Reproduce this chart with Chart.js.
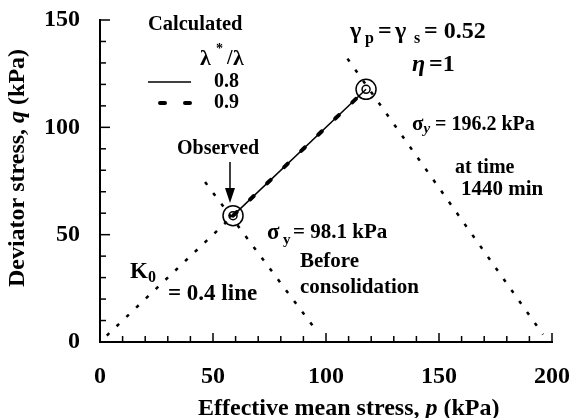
<!DOCTYPE html>
<html>
<head>
<meta charset="utf-8">
<script src="https://cdn.jsdelivr.net/npm/chart.js@4.4.0/dist/chart.umd.min.js"></script>
<style>
  html, body { margin: 0; padding: 0; background: #fff; }
  canvas { display: block; }
</style>
</head>
<body>
<canvas id="chart" width="571" height="418"></canvas>
<script>
const xTickLabels = [0, 50, 100, 150, 200];
const yTickLabels = [0, 50, 100, 150];

// effective mean stress p / deviator stress q (kPa)
const k0P = [3, 58.86];
const k0Q = [3, 58.86];
const yieldBeforeP = [46.5, 94.5];
const yieldBeforeQ = [74.5, 7];
const yieldAfterP = [109.5, 196];
const yieldAfterQ = [132, 3.5];
const calc08P = [58.86, 117.72];
const calc08Q = [58.86, 117.72];
const calc09P = [58.86, 117.72];
const calc09Q = [58.86, 117.72];
const observedP = [58.86, 117.72];
const observedQ = [58.86, 117.72];

const FONT = '"Liberation Serif", "Times New Roman", serif';
const pts = (xs, ys) => xs.map((v, i) => ({ x: v, y: ys[i] }));

function drawRuns(ctx, x, y, runs) {
  let cx = x;
  runs.forEach((r) => {
    const size = r.size || 20;
    ctx.font = `${r.italic ? 'italic ' : ''}bold ${size}px ${FONT}`;
    if (r.at !== undefined) cx = r.at;
    ctx.fillText(r.t, cx, y + (r.dy || 0));
    cx += ctx.measureText(r.t).width;
  });
}

const overlay = {
  id: 'overlay',
  afterDraw(chart) {
    const { ctx, scales: { x, y } } = chart;
    const area = chart.chartArea;
    ctx.save();
    ctx.strokeStyle = '#000';
    ctx.fillStyle = '#000';
    ctx.lineWidth = 1.5;

    // inward tick marks
    x.ticks.forEach((t) => {
      const px = x.getPixelForValue(t.value);
      const len = xTickLabels.includes(t.value) ? 9 : 6;
      ctx.beginPath();
      ctx.moveTo(px, area.bottom);
      ctx.lineTo(px, area.bottom - len);
      ctx.stroke();
    });
    y.ticks.forEach((t) => {
      const py = y.getPixelForValue(t.value);
      const len = yTickLabels.includes(t.value) ? 10 : 6;
      ctx.beginPath();
      ctx.moveTo(area.left, py);
      ctx.lineTo(area.left + len, py);
      ctx.stroke();
    });

    // axis titles
    ctx.textBaseline = 'middle';
    ctx.textAlign = 'left';
    drawRuns(ctx, 198, 409, [
      { t: 'Effective mean stress, ', size: 24 },
      { t: 'p', size: 24, italic: true },
      { t: ' (kPa)', size: 24 },
    ]);
    ctx.save();
    ctx.translate(18, 168);
    ctx.rotate(-Math.PI / 2);
    ctx.font = `bold 24px ${FONT}`;
    const w1 = ctx.measureText('Deviator stress, ').width;
    ctx.font = `italic bold 24px ${FONT}`;
    const w2 = ctx.measureText('q').width;
    ctx.font = `bold 24px ${FONT}`;
    const w3 = ctx.measureText(' (kPa)').width;
    drawRuns(ctx, -(w1 + w2 + w3) / 2, 0, [
      { t: 'Deviator stress, ', size: 24 },
      { t: 'q', size: 24, italic: true },
      { t: ' (kPa)', size: 24 },
    ]);
    ctx.restore();

    // legend
    drawRuns(ctx, 148, 25, [{ t: 'Calculated', size: 20.5 }]);
    drawRuns(ctx, 200, 59, [
      { t: 'λ', size: 22 },
      { t: '*', size: 14, dy: -10, at: 216 },
      { t: '/', size: 20, at: 227 },
      { t: 'λ', size: 22, at: 233 },
    ]);
    ctx.lineWidth = 1.5;
    ctx.beginPath();
    ctx.moveTo(148, 82);
    ctx.lineTo(191, 82);
    ctx.stroke();
    ctx.lineWidth = 4;
    ctx.lineCap = 'round';
    ctx.beginPath();
    ctx.moveTo(160, 103);
    ctx.lineTo(165, 103);
    ctx.moveTo(185, 103);
    ctx.lineTo(190, 103);
    ctx.stroke();
    ctx.lineCap = 'butt';
    drawRuns(ctx, 214, 82, [{ t: '0.8' }]);
    drawRuns(ctx, 214, 103, [{ t: '0.9' }]);

    // observed label + arrow
    drawRuns(ctx, 177, 149, [{ t: 'Observed' }]);
    ctx.lineWidth = 1.5;
    ctx.beginPath();
    ctx.moveTo(230, 162);
    ctx.lineTo(230, 192);
    ctx.stroke();
    ctx.beginPath();
    ctx.moveTo(225, 188);
    ctx.lineTo(235, 188);
    ctx.lineTo(230, 203);
    ctx.closePath();
    ctx.fill();

    // parameters
    drawRuns(ctx, 350, 32, [
      { t: 'γ', size: 24 },
      { t: 'p', size: 16, dy: 7, at: 365 },
      { t: '=', size: 24, at: 378 },
      { t: 'γ', size: 24, at: 395 },
      { t: 's', size: 16, dy: 7, at: 414 },
      { t: '= 0.52', size: 24, at: 424 },
    ]);
    drawRuns(ctx, 412, 65, [
      { t: 'η', size: 24, italic: true },
      { t: '=1', size: 24, at: 429 },
    ]);
    drawRuns(ctx, 412, 125, [
      { t: 'σ', size: 21 },
      { t: 'y', size: 15, italic: true, dy: 4 },
      { t: ' = 196.2 kPa', size: 20 },
    ]);
    drawRuns(ctx, 455, 168, [{ t: 'at time' }]);
    drawRuns(ctx, 461, 190, [{ t: '1440 min', size: 21 }]);
    drawRuns(ctx, 267, 233, [
      { t: 'σ', size: 23 },
      { t: 'y', size: 15, dy: 7, at: 283 },
      { t: '= 98.1 kPa', size: 21, at: 293 },
    ]);
    drawRuns(ctx, 300, 262, [{ t: 'Before', size: 21 }]);
    drawRuns(ctx, 300, 288, [{ t: 'consolidation', size: 21 }]);
    drawRuns(ctx, 130, 272, [
      { t: 'K', size: 23 },
      { t: '0', size: 16, dy: 6, at: 148 },
    ]);
    drawRuns(ctx, 168, 294, [{ t: '= 0.4 line', size: 23 }]);
    ctx.restore();
  },
};

const dotted = { borderColor: '#000', borderWidth: 2.5, borderDash: [3.5, 10], pointRadius: 0, showLine: true, fill: false };

function fixBox(scale, prop, size) {
  scale[prop] = size;
  scale.paddingTop = 0;
  scale.paddingBottom = 0;
  scale.paddingLeft = 0;
  scale.paddingRight = 0;
}

new Chart(document.getElementById('chart').getContext('2d'), {
  type: 'scatter',
  data: {
    datasets: [
      { label: 'K0 = 0.4 line', data: pts(k0P, k0Q), ...dotted },
      { label: 'Yield before consolidation', data: pts(yieldBeforeP, yieldBeforeQ), ...dotted },
      { label: 'Yield at 1440 min', data: pts(yieldAfterP, yieldAfterQ), ...dotted },
      { label: '0.8', data: pts(calc08P, calc08Q), borderColor: '#000', borderWidth: 1.5, pointRadius: 0, showLine: true },
      { label: '0.9', data: pts(calc09P, calc09Q), borderColor: '#000', borderWidth: 4, borderDash: [5, 18.5], borderCapStyle: 'round', pointRadius: 0, showLine: true },
      { label: 'Observed', data: pts(observedP, observedQ), pointStyle: 'circle', pointRadius: 10, borderColor: '#000', borderWidth: 1.5, backgroundColor: 'rgba(0,0,0,0)', showLine: false },
      { label: 'Observed inner', data: pts(observedP, observedQ), pointStyle: 'circle', pointRadius: 4, borderColor: '#000', borderWidth: 1.5, backgroundColor: 'rgba(0,0,0,0)', showLine: false },
    ],
  },
  options: {
    responsive: false,
    animation: false,
    devicePixelRatio: 1,
    layout: { padding: { top: 20, right: 19, left: 0, bottom: 0 } },
    plugins: { legend: { display: false }, tooltip: { enabled: false } },
    scales: {
      x: {
        type: 'linear',
        min: 0,
        max: 200,
        grid: { display: false },
        border: { display: true, color: '#000', width: 2 },
        ticks: {
          stepSize: 10,
          autoSkip: false,
          maxRotation: 0,
          padding: 12,
          color: '#000',
          font: { family: FONT, size: 24, weight: 'bold' },
          callback: (v) => (xTickLabels.includes(v) ? String(v) : ''),
        },
        afterFit: (scale) => fixBox(scale, 'height', 76),
      },
      y: {
        type: 'linear',
        min: 0,
        max: 150,
        grid: { display: false },
        border: { display: true, color: '#000', width: 2 },
        ticks: {
          stepSize: 10,
          autoSkip: false,
          padding: 12,
          color: '#000',
          font: { family: FONT, size: 24, weight: 'bold' },
          callback: (v) => (yTickLabels.includes(v) ? String(v) : ''),
        },
        afterFit: (scale) => fixBox(scale, 'width', 100),
      },
    },
  },
  plugins: [overlay],
});
</script>
</body>
</html>
